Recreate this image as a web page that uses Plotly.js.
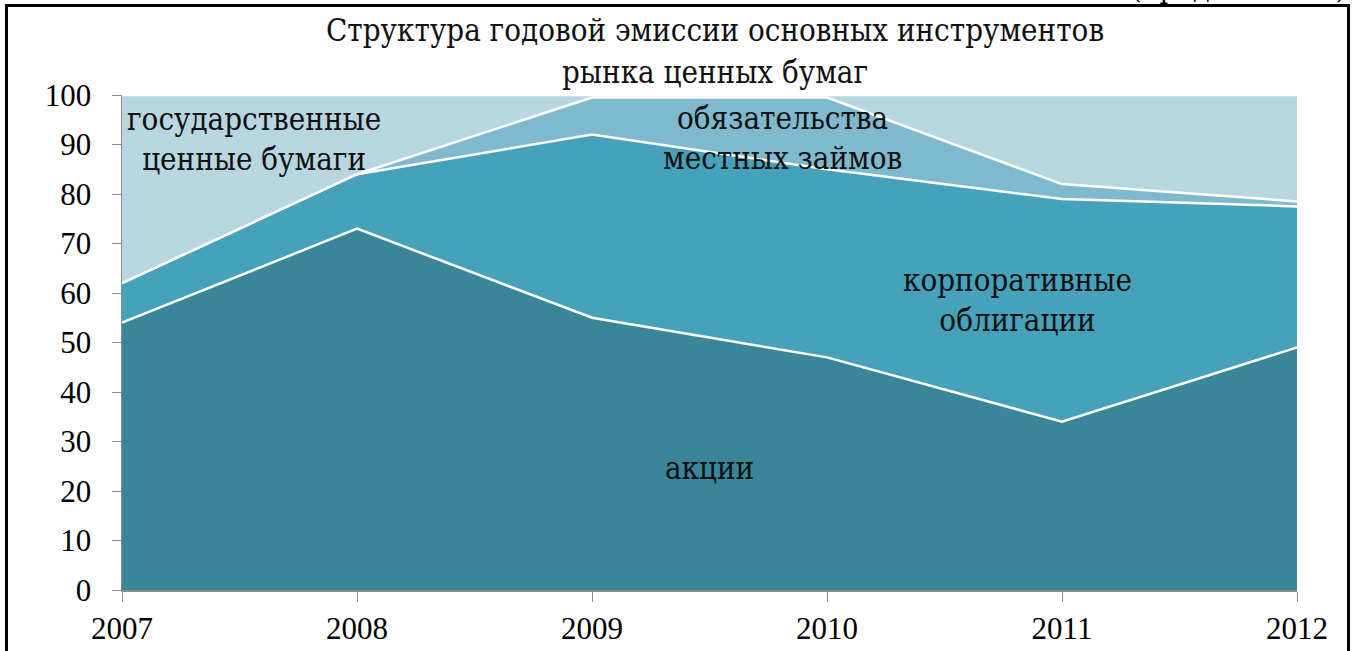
<!DOCTYPE html>
<html>
<head>
<meta charset="utf-8">
<script src="https://cdn.plot.ly/plotly-3.0.1.min.js"></script>
<style>
  html, body { margin: 0; padding: 0; background: #fff; overflow: hidden; }
  #chart { width: 1357px; height: 651px; }
  #frame { position: absolute; left: 5px; top: 4px; width: 1339px; height: 660px; border: 3px solid #000; pointer-events: none; }
</style>
</head>
<body>
<div id="chart"></div>
<div id="frame"></div>
<script>
const years = [2007, 2008, 2009, 2010, 2011, 2012];
const names = ["акции", "корпоративные облигации", "обязательства местных займов", "государственные ценные бумаги"];
const stocks = [54, 73, 55, 47, 34, 49];
const corporateBonds = [8, 11, 37, 38, 45, 28.5];
const municipalBonds = [0, 0, 7.5, 14.5, 3, 1];
const governmentSecurities = [38, 16, 0.5, 0.5, 18, 21.5];
const seriesValues = [stocks, corporateBonds, municipalBonds, governmentSecurities];
const colors = ["#3a8598", "#46a1ba", "#7eb9cd", "#b8d6e0"];
const titleLines = ["Структура годовой эмиссии основных инструментов", "рынка ценных бумаг"];
const labelTexts = ["акции", "корпоративные<br>облигации", "обязательства<br>местных займов", "государственные<br>ценные бумаги"];

const serif = "'Liberation Serif', 'Times New Roman', serif";
const cyrSerif = "'DejaVu Serif Condensed', 'DejaVu Serif', serif";

const traces = seriesValues.map((vals, i) => ({
  type: "scatter",
  mode: "lines",
  x: years,
  y: vals,
  name: names[i],
  stackgroup: "one",
  fillcolor: colors[i],
  line: { color: "#ffffff", width: 2.5 },
  hoverinfo: "x+y+name"
}));

const labelPos = [
  { x: 2009.5, y: 24.7 },
  { x: 2010.81, y: 58.5 },
  { x: 2009.81, y: 91.4 },
  { x: 2007.56, y: 91.2 }
];

const annotations = labelTexts.map((t, i) => ({
  text: t, x: labelPos[i].x, y: labelPos[i].y, xref: "x", yref: "y",
  showarrow: false, font: { family: cyrSerif, size: 31, color: "#111" }
}));

const titleY = [1.1313, 1.0465];
titleLines.forEach((t, i) => annotations.push({
  text: t, xref: "paper", yref: "paper", x: 0.5047, y: titleY[i],
  xanchor: "center", yanchor: "middle", showarrow: false,
  font: { family: cyrSerif, size: 31, color: "#111" }
}));

annotations.push({
  text: "(продолжение)", xref: "paper", yref: "paper", x: 1.043, y: 1.178,
  xanchor: "right", yanchor: "bottom", showarrow: false,
  font: { family: cyrSerif, size: 30, color: "#000" }
});

const layout = {
  width: 1357, height: 651,
  margin: { l: 122, r: 60, t: 95, b: 61 },
  paper_bgcolor: "#fff", plot_bgcolor: "#fff",
  showlegend: false,
  font: { family: serif },
  xaxis: {
    range: [2007, 2012], tickvals: years, ticktext: years.map(String),
    showgrid: false, zeroline: false, showline: true, linecolor: "#8c8c8c", linewidth: 1.5,
    ticks: "outside", ticklen: 10, tickcolor: "#8c8c8c",
    tickfont: { family: serif, size: 31, color: "#000" }
  },
  yaxis: {
    range: [0, 100], dtick: 10, tick0: 0,
    showgrid: true, gridcolor: "#8c8c8c", gridwidth: 1.5,
    zeroline: false, showline: true, linecolor: "#8c8c8c", linewidth: 1.5,
    ticks: "outside", ticklen: 9, tickcolor: "#8c8c8c",
    ticklabelstandoff: 14,
    tickfont: { family: serif, size: 31, color: "#000" }
  },
  annotations: annotations
};

Plotly.newPlot("chart", traces, layout, { displayModeBar: false, staticPlot: true });
</script>
</body>
</html>
